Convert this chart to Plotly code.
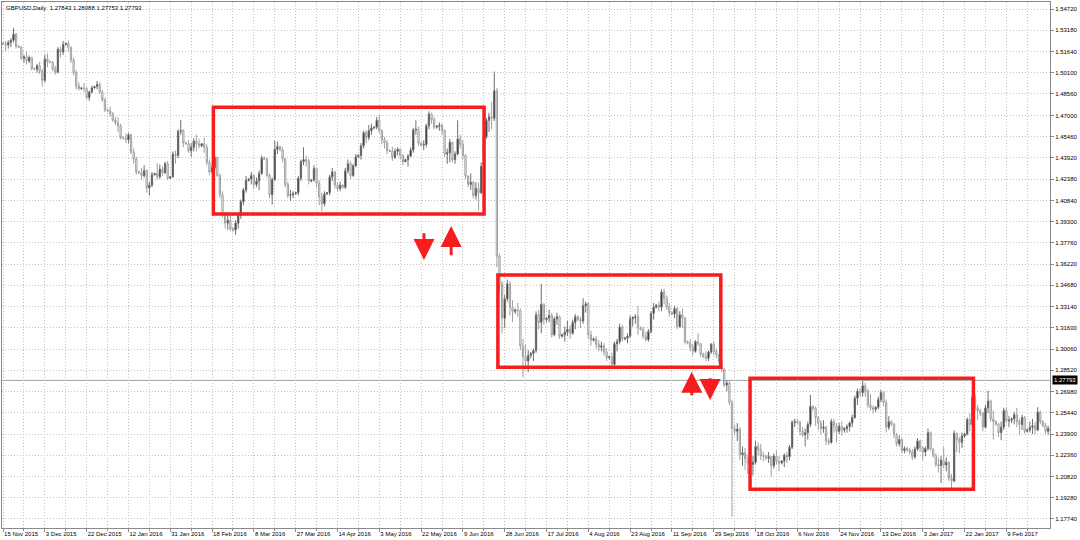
import plotly.graph_objects as go

# ---- Daily GBPUSD bars (prices in 1e-4 units) ----
opens = [
15225, 15218, 15212, 15230, 15245, 15290, 15200, 15195, 15115, 15125,
15095, 15120, 15040, 15035, 15060, 15020, 14955, 15110, 15090, 15085,
15040, 15015, 15180, 15160, 15215, 15222, 15195, 15100, 15010, 14915,
14895, 14900, 14895, 14830, 14870, 14900, 14910, 14925, 14870, 14815,
14740, 14735, 14712, 14665, 14648, 14625, 14540, 14535, 14525, 14560,
14435, 14385, 14290, 14285, 14265, 14300, 14175, 14195, 14270, 14280,
14255, 14310, 14285, 14350, 14245, 14255, 14420, 14410, 14585, 14590,
14500, 14495, 14445, 14470, 14515, 14495, 14480, 14495, 14470, 14360,
14290, 14320, 14395, 14265, 14125, 13985, 13920, 13940, 13880, 13870,
13920, 13975, 14075, 14160, 14230, 14240, 14265, 14200, 14225, 14280,
14390, 14385, 14265, 14125, 14235, 14455, 14475, 14450, 14385, 14200,
14120, 14125, 14135, 14140, 14245, 14365, 14380, 14370, 14225, 14232,
14315, 14210, 14110, 14060, 14130, 14140, 14255, 14290, 14195, 14170,
14195, 14180, 14300, 14350, 14265, 14335, 14400, 14410, 14480, 14575,
14540, 14590, 14610, 14615, 14665, 14590, 14525, 14500, 14445, 14440,
14395, 14440, 14455, 14410, 14365, 14380, 14405, 14450, 14595, 14600,
14500, 14485, 14490, 14625, 14710, 14670, 14615, 14622, 14630, 14590,
14420, 14430, 14505, 14380, 14420, 14530, 14490, 14410, 14260, 14200,
14215, 14120, 14170, 14140, 14400, 14545, 14665, 14690, 14680, 14880,
13680, 13480, 13230, 13370, 13480, 13310, 13280, 13290, 13285, 13030,
12950, 12920, 12960, 12975, 12995, 13255, 13200, 13330, 13220, 13230,
13250, 13110, 13225, 13240, 13100, 13110, 13130, 13150, 13120, 13200,
13240, 13220, 13210, 13320, 13335, 13110, 13070, 13080, 13040, 13020,
13030, 12985, 12945, 12950, 12895, 13045, 13060, 13165, 13080, 13085,
13100, 13225, 13235, 13240, 13160, 13150, 13100, 13075, 13135, 13265,
13310, 13325, 13310, 13420, 13375, 13310, 13270, 13260, 13300, 13170,
13255, 13230, 13060, 13050, 13020, 12990, 13060, 13045, 12970, 12950,
12940, 12985, 13040, 12990, 12965, 12915, 12860, 12745, 12760, 12620,
12430, 12410, 12425, 12240, 12255, 12210, 12180, 12170, 12185, 12300,
12275, 12235, 12230, 12215, 12225, 12160, 12230, 12190, 12180, 12195,
12235, 12225, 12295, 12475, 12480, 12475, 12410, 12385, 12400, 12460,
12590, 12575, 12510, 12470, 12430, 12440, 12340, 12330, 12480, 12450,
12410, 12445, 12420, 12430, 12445, 12470, 12510, 12650, 12700, 12690,
12740, 12700, 12600, 12580, 12570, 12585, 12640, 12690, 12620, 12440,
12480, 12460, 12385, 12320, 12350, 12270, 12285, 12275, 12260, 12225,
12280, 12340, 12290, 12260, 12285, 12400, 12280, 12235, 12170, 12160,
12200, 12165, 12185, 12070, 12050, 12395, 12350, 12330, 12375, 12390,
12495, 12460, 12655, 12580, 12560, 12540, 12440, 12580, 12630, 12500,
12480, 12460, 12400, 12440, 12560, 12485, 12490, 12500, 12530, 12480,
12460, 12510, 12410, 12420, 12440, 12450, 12420, 12550, 12480, 12450,
12410]

highs = [
15232, 15240, 15245, 15260, 15335, 15300, 15210, 15205, 15140, 15165,
15135, 15125, 15048, 15075, 15090, 15035, 15140, 15150, 15098, 15095,
15060, 15195, 15200, 15240, 15230, 15245, 15200, 15120, 15030, 14940,
14905, 14935, 14905, 14880, 14915, 14915, 14950, 14940, 14885, 14830,
14750, 14765, 14725, 14690, 14690, 14640, 14548, 14570, 14575, 14570,
14460, 14400, 14300, 14320, 14340, 14310, 14220, 14290, 14285, 14355,
14345, 14330, 14365, 14370, 14260, 14440, 14445, 14600, 14668, 14600,
14510, 14520, 14500, 14535, 14560, 14530, 14500, 14540, 14490, 14380,
14340, 14410, 14400, 14280, 14150, 14000, 13985, 13990, 13890, 13940,
13990, 14090, 14175, 14260, 14245, 14290, 14275, 14250, 14300, 14410,
14400, 14395, 14280, 14250, 14515, 14510, 14480, 14470, 14390, 14220,
14160, 14150, 14145, 14260, 14380, 14470, 14410, 14385, 14240, 14340,
14320, 14230, 14140, 14150, 14145, 14270, 14320, 14300, 14215, 14220,
14200, 14320, 14380, 14370, 14350, 14420, 14420, 14500, 14590, 14590,
14630, 14640, 14620, 14690, 14705, 14600, 14545, 14520, 14455, 14475,
14460, 14470, 14460, 14420, 14385, 14420, 14470, 14610, 14665, 14620,
14510, 14520, 14640, 14730, 14720, 14690, 14630, 14650, 14640, 14600,
14460, 14530, 14510, 14440, 14665, 14560, 14520, 14420, 14265, 14280,
14225, 14215, 14215, 14360, 14560, 14680, 14720, 14800, 15018, 14900,
13700, 13500, 13400, 13510, 13500, 13360, 13300, 13340, 13300, 13080,
13040, 13000, 12985, 13010, 13280, 13290, 13480, 13340, 13240, 13290,
13270, 13240, 13270, 13250, 13120, 13170, 13210, 13180, 13220, 13260,
13250, 13240, 13375, 13350, 13345, 13140, 13090, 13100, 13070, 13060,
13050, 13010, 12960, 12980, 13060, 13080, 13190, 13180, 13095, 13120,
13250, 13245, 13260, 13320, 13170, 13170, 13130, 13150, 13280, 13340,
13330, 13350, 13440, 13445, 13395, 13340, 13280, 13320, 13310, 13280,
13300, 13240, 13070, 13080, 13040, 13070, 13120, 13050, 12980, 12990,
12995, 13050, 13060, 13010, 12970, 12930, 12870, 12780, 12780, 12640,
12460, 12470, 12440, 12300, 12290, 12240, 12200, 12230, 12340, 12330,
12320, 12260, 12240, 12260, 12230, 12250, 12270, 12230, 12200, 12250,
12260, 12310, 12490, 12500, 12500, 12490, 12440, 12430, 12480, 12674,
12600, 12590, 12520, 12490, 12490, 12450, 12360, 12500, 12500, 12470,
12470, 12480, 12440, 12460, 12480, 12530, 12670, 12720, 12720, 12775,
12760, 12720, 12680, 12600, 12590, 12660, 12710, 12700, 12640, 12520,
12490, 12470, 12400, 12380, 12360, 12300, 12300, 12290, 12280, 12300,
12360, 12350, 12300, 12300, 12430, 12410, 12285, 12250, 12220, 12230,
12300, 12220, 12190, 12100, 12417, 12400, 12370, 12400, 12400, 12510,
12540, 12670, 12675, 12600, 12570, 12550, 12600, 12705, 12640, 12560,
12490, 12470, 12480, 12580, 12580, 12520, 12510, 12550, 12580, 12500,
12530, 12520, 12430, 12480, 12500, 12480, 12585, 12560, 12490, 12470,
12450]

lows = [
15210, 15168, 15185, 15195, 15230, 15185, 15190, 15100, 15080, 15070,
15080, 15025, 15030, 15010, 15000, 14910, 14940, 15050, 15080, 15020,
14995, 15005, 15120, 15140, 15205, 15160, 15080, 14990, 14890, 14880,
14885, 14870, 14815, 14805, 14860, 14895, 14890, 14855, 14800, 14725,
14725, 14690, 14655, 14630, 14580, 14525, 14525, 14500, 14500, 14420,
14350, 14270, 14275, 14235, 14250, 14140, 14120, 14180, 14265, 14235,
14240, 14260, 14275, 14230, 14240, 14250, 14350, 14390, 14560, 14470,
14490, 14430, 14400, 14440, 14440, 14460, 14470, 14430, 14340, 14270,
14280, 14300, 14255, 14100, 13960, 13880, 13870, 13860, 13855, 13835,
13880, 13950, 14050, 14140, 14220, 14200, 14170, 14180, 14160, 14270,
14380, 14250, 14100, 14055, 14225, 14420, 14440, 14360, 14180, 14100,
14080, 14100, 14125, 14120, 14225, 14340, 14330, 14200, 14215, 14220,
14180, 14050, 14005, 14040, 14125, 14120, 14225, 14170, 14150, 14150,
14170, 14165, 14280, 14240, 14255, 14325, 14395, 14380, 14460, 14500,
14520, 14560, 14600, 14600, 14570, 14490, 14460, 14420, 14435, 14370,
14385, 14410, 14380, 14340, 14360, 14330, 14400, 14430, 14560, 14480,
14475, 14450, 14470, 14600, 14640, 14600, 14605, 14590, 14560, 14400,
14350, 14360, 14360, 14350, 14410, 14460, 14380, 14240, 14180, 14160,
14100, 14090, 14010, 14130, 14390, 14530, 14580, 14600, 14660, 13600,
13420, 13120, 13160, 13350, 13250, 13200, 13260, 13240, 13000, 12800,
12880, 12840, 12940, 12920, 12980, 13150, 13120, 13180, 13200, 13200,
13090, 13100, 13180, 13080, 13090, 13060, 13100, 13080, 13110, 13150,
13210, 13160, 13190, 13270, 13080, 13030, 13060, 13010, 12990, 12990,
12960, 12920, 12930, 12870, 12865, 12990, 13040, 13060, 13070, 13050,
13090, 13170, 13190, 13110, 13140, 13080, 13060, 13060, 13120, 13220,
13300, 13280, 13280, 13330, 13290, 13240, 13250, 13230, 13150, 13160,
13160, 13040, 13040, 12990, 12960, 12980, 13030, 12950, 12940, 12920,
12920, 12970, 12960, 12940, 12900, 12840, 12730, 12700, 12600, 11790,
12380, 12340, 12200, 12160, 12130, 12100, 12150, 12090, 12170, 12230,
12200, 12190, 12200, 12180, 12080, 12140, 12170, 12120, 12170, 12150,
12180, 12200, 12280, 12440, 12460, 12380, 12370, 12300, 12350, 12440,
12560, 12450, 12420, 12390, 12400, 12310, 12310, 12320, 12400, 12330,
12390, 12380, 12400, 12400, 12410, 12440, 12500, 12600, 12660, 12660,
12660, 12580, 12560, 12540, 12550, 12570, 12620, 12590, 12400, 12420,
12450, 12360, 12300, 12300, 12250, 12250, 12260, 12240, 12200, 12210,
12270, 12260, 12200, 12230, 12270, 12270, 12220, 12150, 12110, 12035,
12140, 12120, 12050, 11990, 12040, 12260, 12250, 12290, 12360, 12380,
12410, 12450, 12560, 12490, 12520, 12410, 12430, 12540, 12480, 12350,
12450, 12370, 12345, 12420, 12470, 12440, 12470, 12460, 12440, 12380,
12420, 12390, 12400, 12400, 12390, 12390, 12410, 12460, 12440, 12390,
12385]

closes = [
15218, 15212, 15230, 15245, 15290, 15200, 15195, 15115, 15125, 15095,
15120, 15040, 15035, 15060, 15020, 14955, 15110, 15090, 15085, 15040,
15015, 15180, 15160, 15215, 15222, 15195, 15100, 15010, 14915, 14895,
14900, 14895, 14830, 14870, 14900, 14910, 14925, 14870, 14815, 14740,
14735, 14712, 14665, 14648, 14625, 14540, 14535, 14525, 14560, 14435,
14385, 14290, 14285, 14265, 14300, 14175, 14195, 14270, 14280, 14255,
14310, 14285, 14350, 14245, 14255, 14420, 14410, 14585, 14590, 14500,
14495, 14445, 14470, 14515, 14495, 14480, 14495, 14470, 14360, 14290,
14320, 14395, 14265, 14125, 13985, 13920, 13940, 13880, 13870, 13920,
13975, 14075, 14160, 14230, 14240, 14265, 14200, 14225, 14280, 14390,
14385, 14265, 14125, 14235, 14455, 14475, 14450, 14385, 14200, 14120,
14125, 14135, 14140, 14245, 14365, 14380, 14370, 14225, 14232, 14315,
14210, 14110, 14060, 14130, 14140, 14255, 14290, 14195, 14170, 14195,
14180, 14300, 14350, 14265, 14335, 14400, 14410, 14480, 14575, 14540,
14590, 14610, 14615, 14665, 14590, 14525, 14500, 14445, 14440, 14395,
14440, 14455, 14410, 14365, 14380, 14405, 14450, 14595, 14600, 14500,
14485, 14490, 14625, 14710, 14670, 14615, 14622, 14630, 14590, 14420,
14430, 14505, 14380, 14420, 14530, 14490, 14410, 14260, 14200, 14215,
14120, 14170, 14140, 14330, 14545, 14665, 14690, 14680, 14880, 13680,
13480, 13230, 13370, 13480, 13310, 13280, 13290, 13285, 13030, 12950,
12920, 12960, 12975, 12995, 13255, 13200, 13330, 13220, 13230, 13250,
13110, 13225, 13240, 13100, 13110, 13130, 13150, 13120, 13200, 13240,
13220, 13210, 13320, 13335, 13110, 13070, 13080, 13040, 13020, 13030,
12985, 12945, 12950, 12895, 13045, 13060, 13165, 13080, 13085, 13100,
13225, 13235, 13240, 13160, 13150, 13100, 13075, 13135, 13265, 13310,
13325, 13310, 13420, 13375, 13310, 13270, 13260, 13300, 13170, 13255,
13230, 13060, 13050, 13020, 12990, 13060, 13045, 12970, 12950, 12940,
12985, 13040, 12990, 12965, 12915, 12860, 12745, 12760, 12620, 12430,
12410, 12425, 12240, 12255, 12210, 12180, 12170, 12185, 12300, 12275,
12235, 12230, 12215, 12225, 12160, 12230, 12190, 12180, 12195, 12235,
12225, 12295, 12475, 12480, 12475, 12410, 12385, 12400, 12460, 12590,
12575, 12510, 12470, 12430, 12440, 12340, 12330, 12480, 12450, 12410,
12445, 12420, 12430, 12445, 12470, 12510, 12650, 12700, 12690, 12740,
12700, 12600, 12580, 12570, 12585, 12640, 12690, 12620, 12440, 12480,
12460, 12385, 12320, 12350, 12270, 12285, 12275, 12260, 12225, 12280,
12340, 12290, 12260, 12285, 12400, 12280, 12235, 12170, 12160, 12200,
12165, 12185, 12070, 12050, 12395, 12350, 12330, 12375, 12390, 12495,
12460, 12655, 12580, 12560, 12540, 12440, 12580, 12630, 12500, 12480,
12460, 12400, 12440, 12560, 12485, 12490, 12500, 12530, 12480, 12460,
12510, 12410, 12420, 12440, 12450, 12420, 12550, 12480, 12450, 12410,
12430]

date_labels = ["15 Nov 2015", "3 Dec 2015", "22 Dec 2015", "12 Jan 2016", "31 Jan 2016",
               "18 Feb 2016", "8 Mar 2016", "27 Mar 2016", "14 Apr 2016", "3 May 2016",
               "22 May 2016", "9 Jun 2016", "28 Jun 2016", "17 Jul 2016", "4 Aug 2016",
               "23 Aug 2016", "11 Sep 2016", "29 Sep 2016", "18 Oct 2016", "6 Nov 2016",
               "24 Nov 2016", "13 Dec 2016", "3 Jan 2017", "22 Jan 2017", "9 Feb 2017"]
bars_per_label = 16

price_ticks = [1.5472, 1.5318, 1.5164, 1.5010, 1.4856, 1.4700, 1.4546, 1.4392, 1.4238,
               1.4084, 1.3930, 1.3776, 1.3622, 1.3468, 1.3314, 1.3160, 1.3006, 1.2852,
               1.2698, 1.2544, 1.2390, 1.2236, 1.2082, 1.1928, 1.1774]
price_labels = ["1.54720", "1.53180", "1.51640", "1.50100", "1.48560", "1.47000", "1.45460",
                "1.43920", "1.42380", "1.40840", "1.39300", "1.37760", "1.36220", "1.34680",
                "1.33140", "1.31600", "1.30060", "1.28520", "1.26980", "1.25440", "1.23900",
                "1.22360", "1.20820", "1.19280", "1.17740"]

last_price = 1.27793
header_text = "GBPUSD,Daily  1.27843 1.28088 1.27753 1.27793"

# highlighted ranges: (first bar, last bar, low price, high price)
box_x0 = [80.5, 189.4, 285.9]
box_x1 = [184.1, 274.7, 371.4]
box_y0 = [1.39855, 1.28739, 1.19893]
box_y1 = [1.47592, 1.35432, 1.27942]

# arrows: bar position, tail price, tip price
arrow_x = [161.1, 171.5, 263.6, 270.6]
arrow_tail = [1.38572, 1.36759, 1.26608, 1.28058]
arrow_tip = [1.36520, 1.38985, 1.28420, 1.26368]

# ---------------------------------------------------------------
n = min(len(opens), len(highs), len(lows), len(closes))
S = 10000.0
xs = list(range(n))
o = [v / S for v in opens[:n]]
h = [v / S for v in highs[:n]]
l = [v / S for v in lows[:n]]
c = [v / S for v in closes[:n]]

label_vals = [i * bars_per_label for i in range(len(date_labels))]
minor_vals = [v + bars_per_label // 2 for v in label_vals]

FONT = "Liberation Sans, Arial, sans-serif"
GRID = "#c4c4c4"
AXIS = "#8a8a8a"
DOT = "1px,2px"

fig = go.Figure(go.Candlestick(
    x=xs, open=o, high=h, low=l, close=c,
    increasing=dict(line=dict(color="#6e6e6e", width=1), fillcolor="#000000"),
    decreasing=dict(line=dict(color="#a0a0a0", width=1), fillcolor="#ffffff"),
    whiskerwidth=0, hoverinfo="skip", showlegend=False))

shapes = [dict(type="line", xref="paper", x0=0, x1=1, yref="y", y0=last_price, y1=last_price,
               line=dict(color="#a0a0a0", width=1), layer="below")]
for x0, x1, y0, y1 in zip(box_x0, box_x1, box_y0, box_y1):
    shapes.append(dict(type="rect", xref="x", yref="y", x0=x0, x1=x1, y0=y0, y1=y1,
                       line=dict(color="#f51d1d", width=3.5), fillcolor="rgba(0,0,0,0)",
                       layer="above"))

annotations = [
    dict(xref="paper", yref="paper", x=0, y=1, xanchor="left", yanchor="top",
         xshift=2, yshift=-1, text=header_text, showarrow=False,
         font=dict(family=FONT, size=6, color="#000000")),
    dict(xref="paper", yref="y", x=1, y=last_price, xanchor="left", yanchor="middle",
         xshift=2, text="%.5f" % last_price, showarrow=False,
         bgcolor="#000000", borderpad=1, font=dict(family=FONT, size=6, color="#ffffff")),
]
for ax_, tail, tip in zip(arrow_x, arrow_tail, arrow_tip):
    annotations.append(dict(xref="x", yref="y", axref="x", ayref="y", x=ax_, y=tip,
                            ax=ax_, ay=tail, text="", showarrow=True, arrowhead=2,
                            arrowsize=1.4, arrowwidth=3, arrowcolor="#f51d1d"))

fig.update_layout(
    width=1080, height=540,
    margin=dict(l=2, r=30, t=2, b=12),
    paper_bgcolor="#ffffff", plot_bgcolor="#ffffff",
    shapes=shapes, annotations=annotations,
    xaxis=dict(range=[-0.4, 400.7], rangeslider=dict(visible=False),
               tickmode="array", tickvals=label_vals, ticktext=date_labels, tickangle=0,
               ticklabelposition="outside right", ticks="outside", ticklen=3, tickcolor=AXIS,
               tickfont=dict(family=FONT, size=6, color="#000000"),
               showgrid=True, gridcolor=GRID, griddash=DOT, gridwidth=1,
               showline=True, linecolor=AXIS, linewidth=1, mirror=True, zeroline=False,
               minor=dict(tickmode="array", tickvals=minor_vals, showgrid=True,
                          gridcolor=GRID, griddash=DOT, ticks="outside", ticklen=2,
                          tickcolor=AXIS)),
    yaxis=dict(side="right", range=[1.17087, 1.55228],
               tickmode="array", tickvals=price_ticks, ticktext=price_labels,
               ticks="outside", ticklen=3, tickcolor=AXIS,
               tickfont=dict(family=FONT, size=6, color="#000000"),
               showgrid=True, gridcolor=GRID, griddash=DOT, gridwidth=1,
               showline=True, linecolor=AXIS, linewidth=1, mirror=True, zeroline=False),
)

fig.write_html("out.html", config={"displayModeBar": False, "staticPlot": True},
               post_script="document.body.style.margin='0';"
                           "document.body.style.overflow='hidden';")
